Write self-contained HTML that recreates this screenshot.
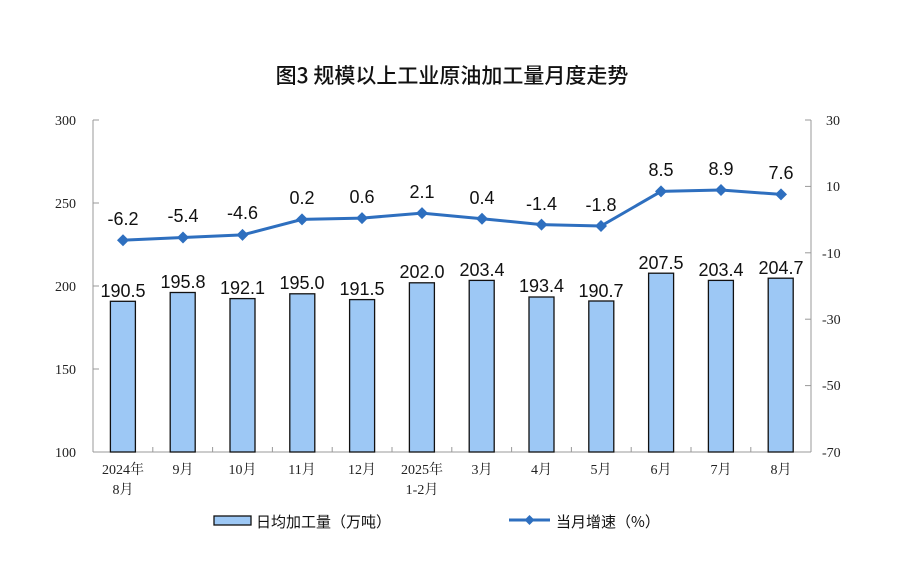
<!DOCTYPE html>
<html><head><meta charset="utf-8"><style>
body{margin:0;background:#fff;}
text{font-family:"Liberation Sans","Noto Sans CJK SC",sans-serif;}
.ax text{font-family:"Liberation Serif","Noto Serif CJK SC",serif;font-size:14px;fill:#222;}
.cat text{font-family:"Liberation Serif","Noto Serif CJK SC",serif;font-size:14px;fill:#222;}
.v text{font-size:18px;fill:#111;text-anchor:middle;}
</style></head><body>
<svg width="905" height="563" xmlns="http://www.w3.org/2000/svg">
<rect width="905" height="563" fill="#fff"/>
<text x="452" y="83" text-anchor="middle" style="font-family:'Noto Sans CJK SC',sans-serif;font-size:21px;font-weight:500" fill="#111">图3  规模以上工业原油加工量月度走势</text>
<g stroke="#999" stroke-width="1" fill="none">
<line x1="93" y1="120" x2="93" y2="452"/>
<line x1="811" y1="120" x2="811" y2="452"/>
<line x1="93" y1="452" x2="811" y2="452"/>
<line x1="93" y1="120" x2="99" y2="120"/><line x1="93" y1="203" x2="99" y2="203"/><line x1="93" y1="286" x2="99" y2="286"/><line x1="93" y1="369" x2="99" y2="369"/>
<line x1="805" y1="120" x2="811" y2="120"/><line x1="805" y1="186.4" x2="811" y2="186.4"/><line x1="805" y1="252.8" x2="811" y2="252.8"/><line x1="805" y1="319.2" x2="811" y2="319.2"/><line x1="805" y1="385.6" x2="811" y2="385.6"/><line x1="805" y1="452" x2="811" y2="452"/>
<path d="M152.8 452v-5M212.6 452v-5M272.4 452v-5M332.2 452v-5M392 452v-5M451.8 452v-5M511.6 452v-5M571.4 452v-5M631.2 452v-5M691 452v-5M750.8 452v-5"/>
</g>
<g class="ax" text-anchor="end">
<text x="76" y="125">300</text><text x="76" y="208">250</text><text x="76" y="291">200</text><text x="76" y="374">150</text><text x="76" y="457">100</text>
</g>
<g class="ax" text-anchor="start">
<text x="826" y="125">30</text><text x="826" y="191">10</text><text x="822" y="258">-10</text><text x="822" y="324">-30</text><text x="822" y="390">-50</text><text x="822" y="457">-70</text>
</g>
<g fill="#9dc8f5" stroke="#111" stroke-width="1.3">
<rect x="110.4" y="301.3" width="25" height="150.7"/>
<rect x="170.2" y="292.5" width="25" height="159.5"/>
<rect x="230" y="298.6" width="25" height="153.4"/>
<rect x="289.8" y="293.8" width="25" height="158.2"/>
<rect x="349.6" y="299.6" width="25" height="152.4"/>
<rect x="409.4" y="282.8" width="25" height="169.2"/>
<rect x="469.2" y="280.4" width="25" height="171.6"/>
<rect x="529" y="297" width="25" height="155"/>
<rect x="588.8" y="301" width="25" height="151"/>
<rect x="648.6" y="273.2" width="25" height="178.8"/>
<rect x="708.4" y="280.4" width="25" height="171.6"/>
<rect x="768.2" y="278.2" width="25" height="173.8"/>
</g>
<g class="v">
<text x="123" y="297">190.5</text><text x="183" y="288">195.8</text><text x="242.5" y="294">192.1</text><text x="302" y="289">195.0</text><text x="362" y="295">191.5</text><text x="422" y="278">202.0</text><text x="482" y="276">203.4</text><text x="541.5" y="292">193.4</text><text x="601" y="297">190.7</text><text x="661" y="269">207.5</text><text x="721" y="276">203.4</text><text x="781" y="274">204.7</text>
</g>
<polyline fill="none" stroke="#2e6fbf" stroke-width="3" points="123,240.2 183,237.5 242.5,234.9 302,219.4 362,218.1 422,213.1 482,218.7 541.5,224.6 601,226 661,191.4 721,190 781,194.4"/>
<g fill="#2e6fbf">
<path d="M123 234.2l6 6-6 6-6-6z"/><path d="M183 231.5l6 6-6 6-6-6z"/><path d="M242.5 228.9l6 6-6 6-6-6z"/><path d="M302 213.4l6 6-6 6-6-6z"/><path d="M362 212.1l6 6-6 6-6-6z"/><path d="M422 207.1l6 6-6 6-6-6z"/><path d="M482 212.7l6 6-6 6-6-6z"/><path d="M541.5 218.6l6 6-6 6-6-6z"/><path d="M601 220l6 6-6 6-6-6z"/><path d="M661 185.4l6 6-6 6-6-6z"/><path d="M721 184l6 6-6 6-6-6z"/><path d="M781 188.4l6 6-6 6-6-6z"/>
</g>
<g class="v">
<text x="123" y="225">-6.2</text><text x="183" y="222">-5.4</text><text x="242.5" y="219">-4.6</text><text x="302" y="204">0.2</text><text x="362" y="203">0.6</text><text x="422" y="198">2.1</text><text x="482" y="204">0.4</text><text x="541.5" y="210">-1.4</text><text x="601" y="211">-1.8</text><text x="661" y="176">8.5</text><text x="721" y="175">8.9</text><text x="781" y="179">7.6</text>
</g>
<g class="cat" text-anchor="middle">
<text x="123" y="474">2024年</text><text x="123" y="494">8月</text>
<text x="183" y="474">9月</text><text x="242.5" y="474">10月</text><text x="302" y="474">11月</text><text x="362" y="474">12月</text>
<text x="422" y="474">2025年</text><text x="422" y="494">1-2月</text>
<text x="482" y="474">3月</text><text x="541.5" y="474">4月</text><text x="601" y="474">5月</text><text x="661" y="474">6月</text><text x="721" y="474">7月</text><text x="781" y="474">8月</text>
</g>
<rect x="214" y="516" width="37" height="9" fill="#9dc8f5" stroke="#111" stroke-width="1.3"/>
<text x="256" y="527" style="font-family:'Noto Sans CJK SC',sans-serif;font-size:15px" fill="#111">日均加工量（万吨）</text>
<line x1="509" y1="520" x2="550" y2="520" stroke="#2e6fbf" stroke-width="3"/>
<path d="M529.5 515l5 5-5 5-5-5z" fill="#2e6fbf"/>
<text x="556" y="527" style="font-family:'Noto Sans CJK SC',sans-serif;font-size:15px" fill="#111">当月增速（%）</text>
</svg>
</body></html>
